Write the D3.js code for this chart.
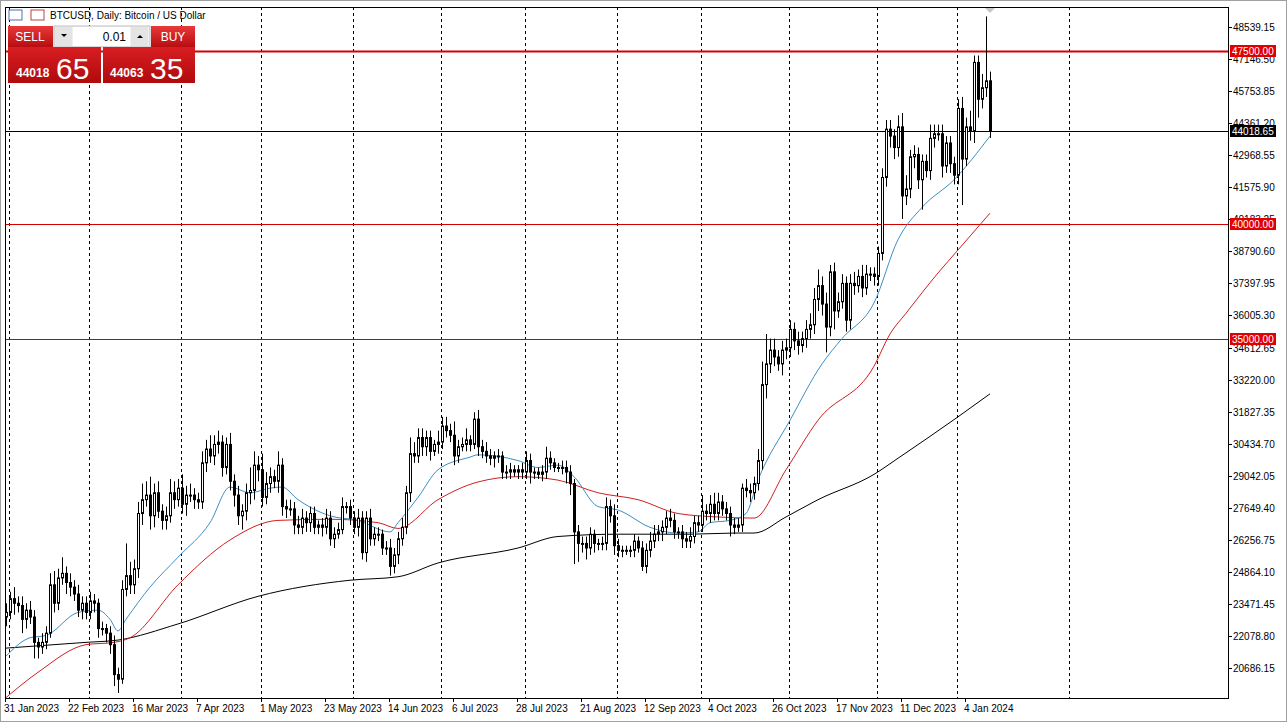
<!DOCTYPE html>
<html>
<head>
<meta charset="utf-8">
<script src="https://cdn.jsdelivr.net/npm/d3@7"></script>
<style>
body { margin: 0; background: #fff; }
text { font-family: "Liberation Sans", Arial, sans-serif; }
</style>
</head>
<body>
<script>
// daily closes (thousands USD), weekday bars 31 Jan 2023 .. 12 Jan 2024
var closes = [
 23.1,23.7,23.5,23.4,22.8,23.2,22.9,21.8,21.6,21.8,
 22.2,24.3,23.5,24.6,24.8,24.4,24.2,23.9,23.2,23.5,
 23.1,23.6,23.5,22.4,22.4,22.2,21.7,20.4,20.2,24.1,
 24.7,24.3,25.0,27.4,28.0,28.2,27.3,28.3,27.5,27.1,
 27.3,28.3,28.0,28.5,27.8,28.2,28.2,28.0,27.9,29.6,
 30.2,29.9,30.4,30.5,29.4,30.4,28.8,28.2,27.3,27.5,
 28.3,28.4,29.5,29.3,28.1,28.7,29.0,28.8,29.5,27.7,
 27.6,27.6,26.9,26.8,27.2,27.0,27.4,26.8,26.9,26.8,
 27.2,26.3,26.5,26.7,27.7,27.7,27.2,26.8,27.2,25.7,
 27.2,26.3,26.5,26.5,25.9,25.9,25.1,25.6,26.3,26.8,
 28.3,30.0,29.9,30.7,30.3,30.7,30.1,30.4,30.5,31.2,
 31.0,30.8,29.9,30.3,30.4,30.6,30.4,31.5,30.3,30.1,
 29.9,29.8,29.9,29.9,29.2,29.2,29.3,29.2,29.3,29.2,
 29.7,29.2,29.2,29.1,29.2,29.8,29.6,29.4,29.4,29.4,
 29.2,28.7,26.6,26.1,26.1,25.9,26.5,26.1,26.1,26.1,
 27.7,27.3,26.0,25.8,25.8,25.8,25.8,26.2,25.9,25.1,
 25.8,26.2,26.5,26.6,26.8,27.2,27.1,26.6,26.6,26.3,
 26.2,26.4,27.0,26.9,27.5,27.4,27.8,27.4,27.9,27.6,
 27.4,26.9,26.8,26.9,28.5,28.4,28.3,28.7,29.7,33.0,
 33.9,34.5,34.2,33.9,34.5,34.6,35.4,34.9,34.7,35.0,
 35.4,35.6,36.7,37.3,36.5,35.5,37.9,36.2,36.6,37.4,
 35.8,37.4,37.3,37.7,37.2,37.8,37.8,37.7,38.7,42.0,
 44.1,43.8,43.3,44.2,41.2,41.5,42.9,43.0,41.9,42.7,
 42.3,43.7,43.9,43.9,42.5,43.5,42.6,42.1,45.0,42.8,
 44.2,44.0,47.0,45.4,45.9,46.2,44.01865
];
var firstOpen = 22.9;
// wick lengths above / below the body, in hundreds of USD
var wickUp = [
 4,3,5,3,4,3,4,3,2,4, 3,5,6,4,7,3,4,3,4,3, 3,4,3,2,3,2,3,4,3,4,
 14,6,4,5,7,6,8,4,5,3, 4,6,5,4,6,4,5,3,3,5, 4,6,4,5,3,3,5,3,4,3,
 4,10,6,4,7,5,4,3,6,3, 3,4,3,4,4,3,3,3,2,3, 4,3,3,3,4,2,3,3,4,3,
 3,4,3,3,2,3,4,3,3,4, 3,7,5,4,4,3,3,2,5,4, 4,3,6,3,3,5,2,3,4,3,
 4,3,2,3,2,3,3,2,2,3, 4,3,2,2,3,5,3,2,2,3, 3,3,2,3,3,3,3,2,2,3,
 4,3,5,3,2,2,2,3,2,3, 3,4,4,3,3,3,4,3,2,3, 3,4,3,3,7,3,4,5,4,3,
 3,3,3,3,2,4,3,3,5,10, 13,5,5,3,4,4,4,3,4,3, 4,5,5,7,4,5,3,4,4,4,
 3,4,5,3,5,4,3,3,3,4, 4,4,3,5,6,6,3,4,3,3, 3,6,4,4,4,3,3,3,4,5,
 4,7,3,3,6,28,4
];
var wickDn = [
 4,3,5,3,6,4,3,7,5,3, 3,2,4,3,3,5,4,3,3,4, 3,3,4,4,3,4,4,5,6,2,
 3,4,4,4,5,3,6,5,3,4, 4,3,4,3,4,5,3,4,3,3, 4,3,4,4,4,3,4,5,4,6,
 4,5,4,5,4,3,4,3,5,4, 4,3,4,3,3,4,4,3,3,4, 3,3,4,2,2,3,3,3,4,3,
 4,3,3,3,3,3,4,3,4,3, 3,4,3,3,4,4,4,2,4,3, 3,3,4,3,2,3,3,2,4,3,
 3,3,4,3,3,3,3,2,3,3, 3,5,3,2,3,3,3,2,2,3, 5,5,14,8,4,5,3,4,3,3,
 3,3,4,3,3,2,3,3,2,2, 3,3,3,3,4,3,3,3,3,4, 3,3,3,3,3,3,4,3,3,3,
 3,5,3,2,3,3,4,3,3,4, 6,4,4,3,5,4,4,4,4,3, 4,4,4,5,5,11,4,8,3,3,
 5,4,4,3,4,3,3,4,4,3, 4,5,5,4,10,4,4,5,4,13, 3,4,4,3,5,3,4,4,4,20,
 3,4,5,8,4,4,3
];

// moving averages: bar index / value (thousands)
var maFastIdx = [0,6,10,18,23,26,28,30,36,43,51,56,61,66,69,73,81,88,96,98,103,108,116,118,128,133,138,142,148,153,161,168,173,176,181,185,188,196,204,209,217,223,229,237,246];
var maFastVal = [21.2,22.0,22.1,23.1,23.2,22.8,22.3,22.8,24.2,25.5,27.0,28.55,28.3,28.5,28.55,28.0,27.3,27.1,26.6,27.0,28.1,29.3,29.85,29.95,29.7,29.4,29.5,29.0,27.7,27.55,26.8,26.55,26.6,27.0,27.1,27.4,28.85,31.45,33.9,35.0,36.55,39.3,40.7,41.9,43.8];
var maMidIdx = [0,8,20,27,31,43,56,68,81,93,98,108,118,128,138,148,158,168,178,187,195,203,217,221,225,233,238,246];
var maMidVal = [19.4,20.5,21.7,21.8,22.0,24.3,26.25,27.1,27.15,27.0,26.75,28.0,28.77,29.0,28.85,28.3,28.0,27.4,27.25,27.2,29.3,31.45,33.8,35.2,36.1,37.85,38.85,40.45];
var maSlowIdx = [0,20,28,43,63,86,98,108,128,138,153,171,182,187,195,203,217,223,238,246];
var maSlowVal = [21.55,21.8,21.9,22.6,23.8,24.5,24.65,25.25,25.9,26.4,26.5,26.5,26.55,26.55,27.25,28.0,29.1,29.8,31.6,32.6];

var dateLabels = ["31 Jan 2023","22 Feb 2023","16 Mar 2023","7 Apr 2023","1 May 2023","23 May 2023","14 Jun 2023","6 Jul 2023","28 Jul 2023","21 Aug 2023","12 Sep 2023","4 Oct 2023","26 Oct 2023","17 Nov 2023","11 Dec 2023","4 Jan 2024"];
var monthStarts = [1,21,44,64,87,109,130,153,174,196,218,238,266];
var levels = [47500, 40000, 35000];
var lastPrice = 44018.65;
var priceTicks = d3.range(21).map(i => 20686.15 + i * 1392.65);

var W = 1287, H = 722;
var L = 5, R = 1228, T = 7, B = 698;
var svg = d3.select("body").append("svg").attr("width", W).attr("height", H);
svg.append("rect").attr("width", W).attr("height", H).attr("fill", "#fff");

var y = d3.scaleLinear().domain([20686.15, 48539.15]).range([668, 27]);
var x = d3.scaleLinear().domain([0, 1]).range([6, 10]);

svg.append("clipPath").attr("id", "c").append("rect")
    .attr("x", L).attr("y", T).attr("width", R - L).attr("height", B - T);
var g = svg.append("g").attr("clip-path", "url(#c)");

// month separators
g.selectAll("line.m").data(monthStarts).join("line")
    .attr("x1", d => Math.round(x(d)) - 0.5).attr("x2", d => Math.round(x(d)) - 0.5)
    .attr("y1", T).attr("y2", B)
    .attr("stroke", "#000").attr("stroke-dasharray", "3,3");

// level lines
g.selectAll("line.lv").data(levels).join("line")
    .attr("x1", L).attr("x2", R)
    .attr("y1", d => Math.round(y(d)) + 0.5).attr("y2", d => Math.round(y(d)) + 0.5)
    .attr("stroke", "#d40000").attr("stroke-width", d => d === 47500 ? 2 : 1);
g.append("line").attr("x1", L).attr("x2", R)
    .attr("y1", Math.round(y(lastPrice)) + 0.5).attr("y2", Math.round(y(lastPrice)) + 0.5)
    .attr("stroke", "#000");

// moving averages
function drawMa(idx, vals, col) {
    var line = d3.line().x(d => x(d[0])).y(d => y(d[1] * 1000)).curve(d3.curveMonotoneX);
    g.append("path").attr("d", line(idx.map((d, i) => [d, vals[i]])))
        .attr("fill", "none").attr("stroke", col).attr("stroke-width", 1);
}
drawMa(maSlowIdx, maSlowVal, "#000");
drawMa(maMidIdx, maMidVal, "#d02020");
drawMa(maFastIdx, maFastVal, "#3d8fc6");

// candles
var bars = closes.map((c, i) => {
    var o = i === 0 ? firstOpen : closes[i - 1];
    return { i: i, o: o * 1000, c: c * 1000,
        h: Math.max(o, c) * 1000 + wickUp[i] * 100,
        l: Math.min(o, c) * 1000 - wickDn[i] * 100 };
});
var cg = g.selectAll("g.bar").data(bars).join("g");
cg.append("line")
    .attr("x1", d => Math.round(x(d.i)) + 0.5).attr("x2", d => Math.round(x(d.i)) + 0.5)
    .attr("y1", d => y(d.h)).attr("y2", d => y(d.l)).attr("stroke", "#000");
cg.append("rect")
    .attr("x", d => Math.round(x(d.i)) - 1 + 0.5)
    .attr("y", d => y(Math.max(d.o, d.c)))
    .attr("width", 2)
    .attr("height", d => Math.max(1, Math.abs(y(d.o) - y(d.c))))
    .attr("fill", d => d.c >= d.o ? "#fff" : "#000")
    .attr("stroke", "#000");

// marker at top
var lx = x(closes.length - 1);
svg.append("path").attr("d", `M${lx - 5},${T + 1}L${lx + 5},${T + 1}L${lx},${T + 6}Z`).attr("fill", "#c8c8c8");

// frame
svg.append("rect").attr("x", L + 0.5).attr("y", T + 0.5).attr("width", R - L).attr("height", B - T)
    .attr("fill", "none").attr("stroke", "#000");
svg.append("rect").attr("x", 0.5).attr("y", 0.5).attr("width", W - 1).attr("height", H - 1)
    .attr("fill", "none").attr("stroke", "#a0a0a0");

// price axis
var ax = svg.append("g");
ax.selectAll("line").data(priceTicks).join("line")
    .attr("x1", R).attr("x2", R + 4)
    .attr("y1", d => Math.round(y(d)) + 0.5).attr("y2", d => Math.round(y(d)) + 0.5).attr("stroke", "#000");
ax.selectAll("text").data(priceTicks.filter(d => y(d) > 12 && y(d) < 694)).join("text")
    .attr("x", R + 5).attr("y", d => y(d) + 4)
    .attr("font-size", 10).attr("fill", "#000")
    .text(d => d.toFixed(2));

function priceTag(v, col) {
    var py = Math.round(y(v));
    svg.append("rect").attr("x", R + 2).attr("y", py - 6).attr("width", 46).attr("height", 12).attr("fill", col);
    svg.append("text").attr("x", R + 4).attr("y", py + 4).attr("font-size", 10).attr("fill", "#fff")
        .text(v.toFixed(2));
}
levels.forEach(v => priceTag(v, "#e00000"));
priceTag(lastPrice, "#000");

// date axis
svg.selectAll("line.dt").data(dateLabels).join("line")
    .attr("x1", (d, i) => Math.round(x(i * 16)) - 0.5).attr("x2", (d, i) => Math.round(x(i * 16)) - 0.5)
    .attr("y1", B).attr("y2", B + 4).attr("stroke", "#000");
svg.selectAll("text.dt").data(dateLabels).join("text")
    .attr("x", (d, i) => x(i * 16) - 2).attr("y", 712)
    .attr("font-size", 10).attr("fill", "#000").text(d => d);

// header
svg.append("rect").attr("x", 9).attr("y", 10).attr("width", 13).attr("height", 10).attr("fill", "#fff").attr("stroke", "#5070b0");
svg.append("rect").attr("x", 31).attr("y", 10).attr("width", 13).attr("height", 10).attr("fill", "#fff").attr("stroke", "#c04040");
svg.append("text").attr("x", 50).attr("y", 19).attr("font-size", 10).text("BTCUSD, Daily:  Bitcoin / US Dollar");

// trading panel
var defs = svg.append("defs");
var gr = defs.append("linearGradient").attr("id", "rg").attr("x1", 0).attr("x2", 0).attr("y1", 0).attr("y2", 1);
gr.append("stop").attr("offset", 0).attr("stop-color", "#e8383a");
gr.append("stop").attr("offset", 1).attr("stop-color", "#b80d10");
var gr2 = defs.append("linearGradient").attr("id", "rg2").attr("x1", 0).attr("x2", 0).attr("y1", 0).attr("y2", 1);
gr2.append("stop").attr("offset", 0).attr("stop-color", "#d81e22");
gr2.append("stop").attr("offset", 1).attr("stop-color", "#b00a0d");
var tp = svg.append("g");
tp.append("rect").attr("x", 8).attr("y", 26).attr("width", 45).attr("height", 21).attr("fill", "url(#rg)");
tp.append("rect").attr("x", 151).attr("y", 26).attr("width", 44).attr("height", 21).attr("fill", "url(#rg)");
tp.append("rect").attr("x", 54).attr("y", 26).attr("width", 96).attr("height", 21).attr("fill", "#f0f0f0").attr("stroke", "#c0c0c0");
tp.append("rect").attr("x", 55).attr("y", 27).attr("width", 17).attr("height", 19).attr("fill", "#e4e4e4");
tp.append("rect").attr("x", 131).attr("y", 27).attr("width", 17).attr("height", 19).attr("fill", "#e4e4e4");
tp.append("rect").attr("x", 73).attr("y", 27).attr("width", 57).attr("height", 19).attr("fill", "#fff");
tp.append("path").attr("d", "M61,34L67,34L64,37Z").attr("fill", "#000");
tp.append("path").attr("d", "M137,38L143,38L140,35Z").attr("fill", "#000");
tp.append("text").attr("x", 126).attr("y", 41).attr("text-anchor", "end").attr("font-size", 12).text("0.01");
tp.append("text").attr("x", 30).attr("y", 41).attr("text-anchor", "middle").attr("font-size", 12).attr("fill", "#fff").text("SELL");
tp.append("text").attr("x", 173).attr("y", 41).attr("text-anchor", "middle").attr("font-size", 12).attr("fill", "#fff").text("BUY");
tp.append("rect").attr("x", 8).attr("y", 47).attr("width", 93).attr("height", 36).attr("fill", "url(#rg2)");
tp.append("rect").attr("x", 103).attr("y", 47).attr("width", 92).attr("height", 36).attr("fill", "url(#rg2)");
tp.append("text").attr("x", 16).attr("y", 77).attr("font-size", 12).attr("font-weight", "bold").attr("fill", "#fff").text("44018");
tp.append("text").attr("x", 56).attr("y", 79).attr("font-size", 30).attr("fill", "#fff").text("65");
tp.append("text").attr("x", 110).attr("y", 77).attr("font-size", 12).attr("font-weight", "bold").attr("fill", "#fff").text("44063");
tp.append("text").attr("x", 150).attr("y", 79).attr("font-size", 30).attr("fill", "#fff").text("35");
</script>
</body>
</html>
